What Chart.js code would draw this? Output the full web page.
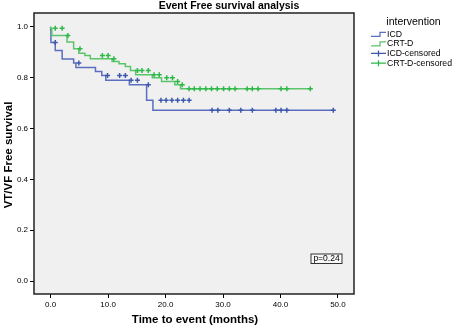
<!DOCTYPE html>
<html><head><meta charset="utf-8">
<script src="https://cdn.jsdelivr.net/npm/chart.js@4/dist/chart.umd.min.js"></script>
<style>html,body{margin:0;padding:0;background:#fff;} #c{display:block;}</style>
</head><body>
<canvas id="c" width="454" height="329"></canvas>
<script>
const chartTitle = 'Event Free survival analysis';
const xTitle = 'Time to event (months)';
const yTitle = 'VT/VF Free survival';
const legendTitle = 'intervention';
const seriesNames = ['ICD', 'CRT-D', 'ICD-censored', 'CRT-D-censored'];
const xTicks = [0, 10, 20, 30, 40, 50];
const yTicks = [0, 0.2, 0.4, 0.6, 0.8, 1.0];
const pText = 'p=0.24';

// ICD Kaplan-Meier steps (time of drop, survival after drop)
const icdTimes = [0, 0.05, 0.8, 2.0, 4.0, 4.4, 7.8, 8.9, 9.6, 13.7, 16.7, 17.8, 26.0, 49.2];
const icdSurv  = [1.0, 0.988, 0.938, 0.907, 0.873, 0.857, 0.840, 0.824, 0.808, 0.790, 0.772, 0.711, 0.672, 0.672];
const icdCensor = [0.8, 4.9, 9.9, 12.0, 13.0, 14.0, 15.1, 17.0, 19.2, 20.1, 21.1, 22.1, 23.1, 24.1, 28.1, 29.1, 31.1, 33.1, 35.1, 39.2, 40.1, 41.1, 49.2];

// CRT-D Kaplan-Meier steps
const crtTimes = [0, 0.2, 2.85, 4.0, 4.9, 5.95, 6.9, 10.7, 11.9, 13.0, 13.9, 14.8, 17.7, 19.3, 21.6, 22.6, 23.8, 45.2];
const crtSurv  = [1.0, 0.994, 0.966, 0.940, 0.913, 0.896, 0.887, 0.874, 0.863, 0.854, 0.844, 0.828, 0.811, 0.799, 0.785, 0.772, 0.756, 0.756];
const crtCensor = [0.8, 2.0, 3.0, 5.1, 9.0, 10.0, 11.0, 15.1, 15.9, 17.0, 18.0, 18.9, 20.2, 21.2, 22.1, 22.9, 24.1, 25.0, 26.0, 27.0, 28.0, 29.0, 30.1, 31.1, 32.1, 34.2, 35.1, 36.1, 40.1, 41.1, 45.2];

const FONT = "'Liberation Sans', Arial, sans-serif";
const BLUE_LINE = '#5b6ec0', BLUE_MARK = '#3e58ac';
const GREEN_LINE = '#5cc46a', GREEN_MARK = '#2eb848';

function survAt(times, surv, t) {
  let s = surv[0];
  for (let i = 0; i < times.length; i++) if (times[i] <= t + 1e-9) s = surv[i];
  return s;
}

const decor = {
  id: 'decor',
  beforeDraw(chart) {
    const {ctx, chartArea: a} = chart;
    ctx.save();
    ctx.fillStyle = '#ffffff';
    ctx.fillRect(0, 0, chart.width, chart.height);
    ctx.fillStyle = '#f0f0f0';
    ctx.fillRect(a.left, a.top, a.right - a.left, a.bottom - a.top);
    ctx.restore();
  },
  afterDraw(chart) {
    const {ctx, chartArea: a} = chart;
    ctx.save();
    ctx.strokeStyle = '#222';
    ctx.lineWidth = 1.5;
    ctx.strokeRect(a.left, a.top, a.right - a.left, a.bottom - a.top);

    ctx.fillStyle = '#000';
    ctx.textAlign = 'center';
    ctx.textBaseline = 'middle';
    ctx.font = 'bold 10.5px ' + FONT;
    ctx.fillText(chartTitle, 229, 6.5);
    ctx.font = 'bold 11.5px ' + FONT;
    ctx.fillText(xTitle, (a.left + a.right) / 2 + 1, 320);
    ctx.save();
    ctx.translate(9, 155);
    ctx.rotate(-Math.PI / 2);
    ctx.fillText(yTitle, 0, 0);
    ctx.restore();

    // legend
    ctx.font = '10.5px ' + FONT;
    ctx.fillText(legendTitle, 413.5, 22.5);
    ctx.font = '8.7px ' + FONT;
    ctx.textAlign = 'left';
    const ys = [34.3, 43.8, 53.4, 63.2];
    const cols = [BLUE_LINE, GREEN_LINE, BLUE_MARK, GREEN_MARK];
    const x0 = 371, x1 = 386;
    ys.forEach((y, i) => {
      ctx.strokeStyle = cols[i];
      ctx.lineWidth = 1.3;
      ctx.beginPath();
      if (i < 2) {
        ctx.moveTo(x0, y + 2); ctx.lineTo(x0 + 9, y + 2); ctx.lineTo(x0 + 9, y - 2); ctx.lineTo(x1, y - 2);
      } else {
        ctx.moveTo(x0, y); ctx.lineTo(x1, y);
        ctx.moveTo((x0 + x1) / 2, y - 3); ctx.lineTo((x0 + x1) / 2, y + 3);
      }
      ctx.stroke();
      ctx.fillStyle = '#000';
      ctx.fillText(seriesNames[i], x1 + 1, y);
    });

    // p-value box
    ctx.fillStyle = '#f8f8f8';
    ctx.fillRect(311, 254, 31, 9.5);
    ctx.strokeStyle = '#333';
    ctx.lineWidth = 1;
    ctx.strokeRect(311, 254, 31, 9.5);
    ctx.fillStyle = '#000';
    ctx.textAlign = 'center';
    ctx.font = '8.5px ' + FONT;
    ctx.fillText(pText, 326.5, 259);
    ctx.restore();
  }
};

const axisCommon = {
  type: 'linear',
  grid: {drawOnChartArea: false, drawTicks: true, tickLength: 4, color: '#000', lineWidth: 1},
  border: {display: false},
  ticks: {callback: v => Number(v).toFixed(1), font: {family: FONT, size: 8}, color: '#000', padding: 2, maxRotation: 0, autoSkip: false}
};

new Chart(document.getElementById('c').getContext('2d'), {
  type: 'line',
  data: {
    datasets: [
      {label: seriesNames[0], data: icdTimes.map((t, i) => ({x: t, y: icdSurv[i]})), stepped: 'after',
       borderColor: BLUE_LINE, borderWidth: 1.5, pointRadius: 0, fill: false, order: 3},
      {label: seriesNames[1], data: crtTimes.map((t, i) => ({x: t, y: crtSurv[i]})), stepped: 'after',
       borderColor: GREEN_LINE, borderWidth: 1.5, pointRadius: 0, fill: false, order: 2},
      {label: seriesNames[2], data: icdCensor.map(t => ({x: t, y: survAt(icdTimes, icdSurv, t)})), showLine: false,
       pointStyle: 'cross', pointRadius: 2.5, pointBorderColor: BLUE_MARK, pointBorderWidth: 1.5, order: 1},
      {label: seriesNames[3], data: crtCensor.map(t => ({x: t, y: survAt(crtTimes, crtSurv, t)})), showLine: false,
       pointStyle: 'cross', pointRadius: 2.5, pointBorderColor: GREEN_MARK, pointBorderWidth: 1.5, order: 0}
    ]
  },
  options: {
    responsive: false, animation: false, devicePixelRatio: 1,
    layout: {padding: {left: 0, top: 13, right: 100, bottom: 0}},
    plugins: {legend: {display: false}, title: {display: false}, tooltip: {enabled: false}},
    scales: {
      x: Object.assign({}, axisCommon, {
        min: -2.9, max: 52.8,
        afterBuildTicks: s => { s.ticks = xTicks.map(v => ({value: v})); },
        afterFit: s => { s.height = 35; }
      }),
      y: Object.assign({}, axisCommon, {
        min: -0.051, max: 1.054,
        afterBuildTicks: s => { s.ticks = yTicks.map(v => ({value: v})); },
        afterFit: s => { s.width = 34; }
      })
    }
  },
  plugins: [decor]
});
</script>
</body></html>
